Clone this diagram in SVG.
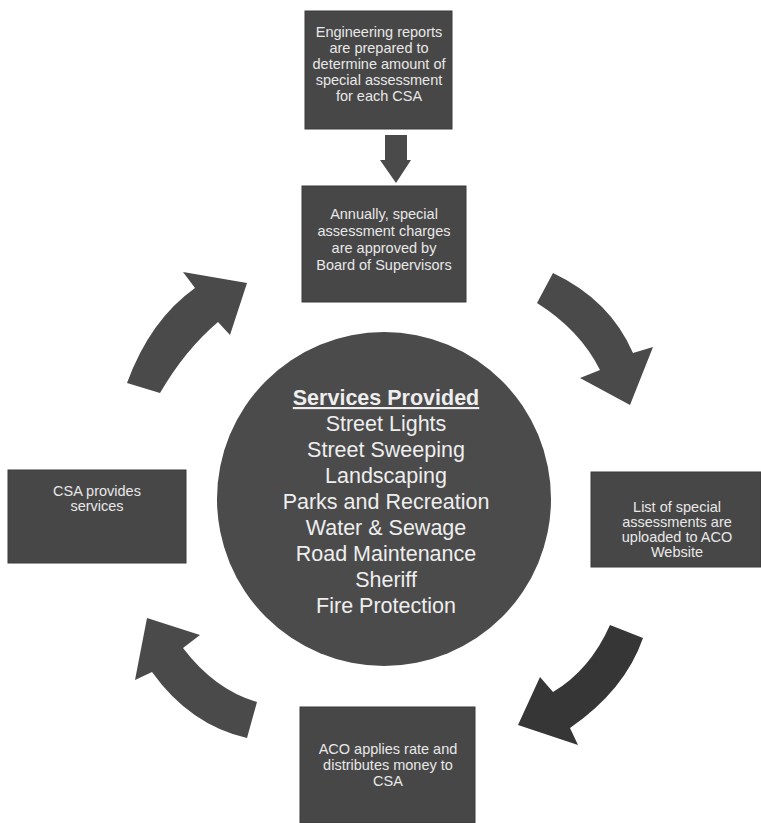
<svg xmlns="http://www.w3.org/2000/svg" width="761" height="823" viewBox="0 0 761 823">
<style>
.box{fill:#474747;stroke:#3a3a3a;stroke-width:1}
.bt{font-family:"Liberation Sans",Arial,sans-serif;font-size:14.5px;fill:#e8e8e8;text-anchor:middle}
.ct{font-family:"Liberation Sans",Arial,sans-serif;font-size:21.5px;fill:#eeeeee;text-anchor:middle}
.arr{fill:#4a4a4a}
</style>
<rect width="761" height="823" fill="#ffffff"/>
<g id="eng-reports">
<rect class="box" x="305" y="11" width="147" height="118"/>
<text class="bt" x="379" y="37">Engineering reports</text>
<text class="bt" x="379" y="53">are prepared to</text>
<text class="bt" x="379" y="69">determine amount of</text>
<text class="bt" x="379" y="85">special assessment</text>
<text class="bt" x="379" y="101">for each CSA</text>
</g>
<g id="approved">
<rect class="box" x="302" y="186" width="164" height="116"/>
<text class="bt" x="384" y="219">Annually, special</text>
<text class="bt" x="384" y="236">assessment charges</text>
<text class="bt" x="384" y="253">are approved by</text>
<text class="bt" x="384" y="270">Board of Supervisors</text>
</g>
<g id="uploaded">
<rect class="box" x="591" y="472" width="170" height="95"/>
<text class="bt" x="677" y="512">List of special</text>
<text class="bt" x="677" y="527">assessments are</text>
<text class="bt" x="677" y="542">uploaded to ACO</text>
<text class="bt" x="677" y="557">Website</text>
</g>
<g id="aco-applies">
<rect class="box" x="300" y="707" width="175" height="116"/>
<text class="bt" x="388" y="754">ACO applies rate and</text>
<text class="bt" x="388" y="770">distributes money to</text>
<text class="bt" x="388" y="786">CSA</text>
</g>
<g id="csa-provides">
<rect class="box" x="8" y="470" width="178" height="93"/>
<text class="bt" x="97" y="496">CSA provides</text>
<text class="bt" x="97" y="511">services</text>
</g>
<g id="services">
<circle cx="384" cy="499" r="167" fill="#4b4b4b"/>
<text class="ct" x="386" y="405" font-weight="bold" text-decoration="underline">Services Provided</text>
<text class="ct" x="386" y="431">Street Lights</text>
<text class="ct" x="386" y="457">Street Sweeping</text>
<text class="ct" x="386" y="483">Landscaping</text>
<text class="ct" x="386" y="509">Parks and Recreation</text>
<text class="ct" x="386" y="535">Water &amp; Sewage</text>
<text class="ct" x="386" y="561">Road Maintenance</text>
<text class="ct" x="386" y="587">Sheriff</text>
<text class="ct" x="386" y="613">Fire Protection</text>
</g>
<g id="connectors">
<path class="arr" d="M385,135 L407,135 L407,160 L411,160 L396,183 L380,160 L385,160 Z"/>
<path class="arr" d="M553,273 Q610,300 633,353 L653,347 L630,405 L580,378 L600,370 Q580,330 537,303 Z"/>
<path class="arr" style="fill:#363636" d="M610,625 Q590,670 553,692 L540,677 L518,725 L578,745 L570,728 Q625,690 643,638 Z"/>
<path class="arr" d="M257,702 Q215,690 183,648 L200,635 L147,618 L135,680 L152,672 Q190,725 247,738 Z"/>
<path class="arr" d="M127,383 Q150,320 195,288 L183,272 L247,283 L230,335 L218,322 Q185,350 160,393 Z"/>
</g>
</svg>
